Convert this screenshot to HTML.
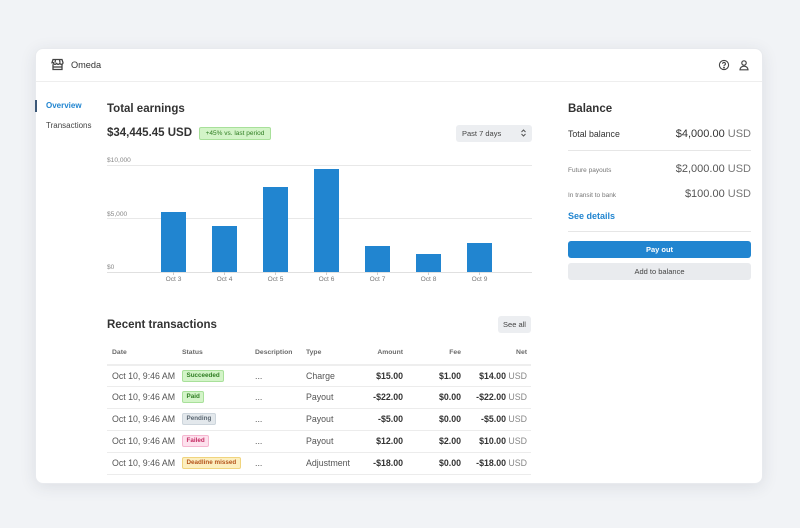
<!DOCTYPE html>
<html><head><meta charset="utf-8"><style>
*{margin:0;padding:0;box-sizing:border-box}
html,body{width:800px;height:528px;overflow:hidden;background:#f1f3f6;font-family:"Liberation Sans",Arial,sans-serif;color:#333}
.a{position:absolute;white-space:nowrap}
.card{position:absolute;left:35px;top:48px;width:728px;height:436px;background:#fff;border-radius:8px;box-shadow:0 3px 16px rgba(40,50,70,0.10);border:1px solid #e8eaee}
.hl{position:absolute;height:1px;background:#ececec}
.bar{position:absolute;width:25.5px;background:#2185d0}
.xl{position:absolute;top:276px;width:40px;text-align:center;font-size:6.6px;color:#777}
.tk{position:absolute;top:272px;width:1px;height:3px;background:#ccc}
.yl{position:absolute;left:107px;font-size:6.6px;color:#888}
.th{position:absolute;top:348px;font-size:6.8px;font-weight:bold;color:#6a6a6a;line-height:10px}
.td{position:absolute;font-size:8.8px;color:#555;line-height:12px}
.r{text-align:right}
.b{font-weight:bold;color:#333}
.u{color:#888;font-weight:normal}
.badge{position:absolute;left:182px;height:12px;line-height:10px;font-size:6.3px;font-weight:bold;padding:0 3.5px;border-radius:2px;border:1px solid}
</style></head><body>
<div class="card"></div>
<!-- header -->
<svg class="a" style="left:51px;top:58px" width="13" height="13" viewBox="0 0 13 13" fill="none" stroke="#444" stroke-width="1.3"><path d="M2 1.5h9l1 3.2c0 1-0.8 1.6-1.6 1.6s-1.6-0.6-1.6-1.6c0 1-0.8 1.6-1.6 1.6S5.6 5.7 5.6 4.7c0 1-0.8 1.6-1.6 1.6S2.4 5.7 2.4 4.7L1 4.7z"/><path d="M2 6.3v5.2h9V6.3"/><path d="M4.5 1.5 4 4.7M8.5 1.5 9 4.7"/><path d="M2 9h9"/></svg>
<div class="a" style="left:71px;top:59px;font-size:9.2px;line-height:12px;color:#333">Omeda</div>
<svg class="a" style="left:718px;top:59px" width="12" height="12" viewBox="0 0 12 12" fill="none" stroke="#444" stroke-width="1.1"><circle cx="6" cy="6" r="4.6"/><path d="M4.6 4.8a1.4 1.4 0 1 1 1.9 1.3c-.4.2-.5.4-.5.8"/><circle cx="6" cy="8.6" r=".4" fill="#444"/></svg>
<svg class="a" style="left:738px;top:59px" width="12" height="12" viewBox="0 0 12 12" fill="none" stroke="#444" stroke-width="1.2"><circle cx="6" cy="4" r="2.2"/><path d="M2 10.8c0-2.2 1.8-3.6 4-3.6s4 1.4 4 3.6z"/></svg>
<div class="hl" style="left:36px;top:81px;width:726px;background:#eeeeee"></div>
<!-- nav -->
<div class="a" style="left:35px;top:100px;width:2px;height:12px;background:#3c5878"></div>
<div class="a" style="left:46px;top:101px;font-size:8px;line-height:10px;color:#2185d0;font-weight:bold">Overview</div>
<div class="a" style="left:46px;top:121px;font-size:8px;line-height:10px;color:#444">Transactions</div>
<!-- earnings -->
<div class="a" style="left:107px;top:102px;font-size:11.5px;line-height:14px;font-weight:bold;color:#333">Total earnings</div>
<div class="a" style="left:107px;top:126px;font-size:11.5px;line-height:14px;font-weight:bold;color:#333">$34,445.45 USD</div>
<div class="a" style="left:199px;top:127px;width:72px;height:13px;background:#d3f4c8;border:1px solid #a8e09a;border-radius:2px;font-size:6.5px;line-height:11px;text-align:center;color:#2f7d22">+45% vs. last period</div>
<div class="a" style="left:456px;top:125px;width:76px;height:17px;background:#eceef1;border-radius:3px"></div>
<div class="a" style="left:462px;top:129px;font-size:7.5px;line-height:10px;color:#444">Past 7 days</div>
<svg class="a" style="left:520px;top:128px" width="7" height="10" viewBox="0 0 7 10" fill="none" stroke="#555" stroke-width="1"><path d="M1.5 4 3.5 2 5.5 4M1.5 6 3.5 8 5.5 6"/></svg>
<!-- chart -->
<div class="yl" style="top:156.5px">$10,000</div>
<div class="yl" style="top:210.5px">$5,000</div>
<div class="yl" style="top:263.5px">$0</div>
<div class="hl" style="left:107px;top:165px;width:425px;background:#e8e8e8"></div>
<div class="hl" style="left:107px;top:218px;width:425px;background:#e8e8e8"></div>
<div class="hl" style="left:107px;top:272px;width:425px;background:#e0e0e0"></div>
<div class="bar" style="left:160.7px;top:212px;height:60px"></div>
<div class="bar" style="left:211.7px;top:226px;height:46px"></div>
<div class="bar" style="left:262.7px;top:187px;height:85px"></div>
<div class="bar" style="left:313.7px;top:169px;height:103px"></div>
<div class="bar" style="left:364.7px;top:246px;height:26px"></div>
<div class="bar" style="left:415.7px;top:254px;height:18px"></div>
<div class="bar" style="left:466.7px;top:243px;height:29px"></div>
<div class="tk" style="left:173px"></div><div class="tk" style="left:224px"></div><div class="tk" style="left:275px"></div><div class="tk" style="left:326px"></div><div class="tk" style="left:377px"></div><div class="tk" style="left:428px"></div><div class="tk" style="left:479px"></div>
<div class="xl" style="left:153.5px">Oct 3</div>
<div class="xl" style="left:204.5px">Oct 4</div>
<div class="xl" style="left:255.5px">Oct 5</div>
<div class="xl" style="left:306.5px">Oct 6</div>
<div class="xl" style="left:357.5px">Oct 7</div>
<div class="xl" style="left:408.5px">Oct 8</div>
<div class="xl" style="left:459.5px">Oct 9</div>
<!-- balance -->
<div class="a" style="left:568px;top:102px;font-size:11.5px;line-height:14px;font-weight:bold;color:#333">Balance</div>
<div class="a" style="left:568px;top:128px;font-size:8.8px;line-height:12px;color:#333">Total balance</div>
<div class="a r" style="right:49px;top:127px;font-size:11px;line-height:14px;color:#333">$4,000.00 <span style="color:#777">USD</span></div>
<div class="hl" style="left:568px;top:150px;width:183px;background:#e6e6e6"></div>
<div class="a" style="left:568px;top:166px;font-size:6.5px;line-height:9px;color:#777">Future payouts</div>
<div class="a r" style="right:49px;top:162px;font-size:11px;line-height:14px;color:#555">$2,000.00 <span style="color:#777">USD</span></div>
<div class="a" style="left:568px;top:191px;font-size:6.5px;line-height:9px;color:#777">In transit to bank</div>
<div class="a r" style="right:49px;top:187px;font-size:11px;line-height:14px;color:#555">$100.00 <span style="color:#777">USD</span></div>
<div class="a" style="left:568px;top:210px;font-size:9px;line-height:12px;font-weight:bold;color:#2185d0">See details</div>
<div class="hl" style="left:568px;top:231px;width:183px;background:#e6e6e6"></div>
<div class="a" style="left:568px;top:241px;width:183px;height:17px;background:#2185d0;border-radius:3px;color:#fff;font-size:7.5px;font-weight:bold;line-height:17px;text-align:center">Pay out</div>
<div class="a" style="left:568px;top:263px;width:183px;height:17px;background:#e9ebee;border-radius:3px;color:#444;font-size:7.5px;line-height:17px;text-align:center">Add to balance</div>
<!-- transactions -->
<div class="a" style="left:107px;top:318px;font-size:11.5px;line-height:14px;font-weight:bold;color:#333">Recent transactions</div>
<div class="a" style="left:498px;top:316px;width:33px;height:17px;background:#eceef1;border-radius:3px;font-size:7.5px;line-height:17px;text-align:center;color:#444">See all</div>
<div class="th" style="left:112px">Date</div>
<div class="th" style="left:182px">Status</div>
<div class="th" style="left:255px">Description</div>
<div class="th" style="left:306px">Type</div>
<div class="th r" style="left:343px;width:60px">Amount</div>
<div class="th r" style="left:401px;width:60px">Fee</div>
<div class="th r" style="left:467px;width:60px">Net</div>
<div class="hl" style="left:107px;top:364px;width:424px;height:2px;background:#eeeeee"></div>
<div class="hl" style="left:107px;top:386px;width:424px"></div>
<div class="hl" style="left:107px;top:408px;width:424px"></div>
<div class="hl" style="left:107px;top:430px;width:424px"></div>
<div class="hl" style="left:107px;top:452px;width:424px"></div>
<div class="hl" style="left:107px;top:474px;width:424px"></div>

<!-- row 1 -->
<div class="td" style="left:112px;top:370px">Oct 10, 9:46 AM</div>
<div class="badge" style="top:370px;background:#d3f4c8;border-color:#a8e09a;color:#2f7d22">Succeeded</div>
<div class="td" style="left:255px;top:370px">...</div>
<div class="td" style="left:306px;top:370px">Charge</div>
<div class="td r b" style="left:343px;width:60px;top:370px">$15.00</div>
<div class="td r b" style="left:401px;width:60px;top:370px">$1.00</div>
<div class="td r b" style="left:447px;width:80px;top:370px">$14.00 <span class="u">USD</span></div>
<!-- row 2 -->
<div class="td" style="left:112px;top:391px">Oct 10, 9:46 AM</div>
<div class="badge" style="top:391px;background:#d3f4c8;border-color:#a8e09a;color:#2f7d22">Paid</div>
<div class="td" style="left:255px;top:391px">...</div>
<div class="td" style="left:306px;top:391px">Payout</div>
<div class="td r b" style="left:343px;width:60px;top:391px">-$22.00</div>
<div class="td r b" style="left:401px;width:60px;top:391px">$0.00</div>
<div class="td r b" style="left:447px;width:80px;top:391px">-$22.00 <span class="u">USD</span></div>
<!-- row 3 -->
<div class="td" style="left:112px;top:413px">Oct 10, 9:46 AM</div>
<div class="badge" style="top:413px;background:#e3e8ec;border-color:#cdd5dc;color:#5b6772">Pending</div>
<div class="td" style="left:255px;top:413px">...</div>
<div class="td" style="left:306px;top:413px">Payout</div>
<div class="td r b" style="left:343px;width:60px;top:413px">-$5.00</div>
<div class="td r b" style="left:401px;width:60px;top:413px">$0.00</div>
<div class="td r b" style="left:447px;width:80px;top:413px">-$5.00 <span class="u">USD</span></div>
<!-- row 4 -->
<div class="td" style="left:112px;top:435px">Oct 10, 9:46 AM</div>
<div class="badge" style="top:435px;background:#fde1ed;border-color:#f5b6d0;color:#c42a62">Failed</div>
<div class="td" style="left:255px;top:435px">...</div>
<div class="td" style="left:306px;top:435px">Payout</div>
<div class="td r b" style="left:343px;width:60px;top:435px">$12.00</div>
<div class="td r b" style="left:401px;width:60px;top:435px">$2.00</div>
<div class="td r b" style="left:447px;width:80px;top:435px">$10.00 <span class="u">USD</span></div>
<!-- row 5 -->
<div class="td" style="left:112px;top:457px">Oct 10, 9:46 AM</div>
<div class="badge" style="top:457px;background:#fcefc0;border-color:#f0d47e;color:#b4541c">Deadline missed</div>
<div class="td" style="left:255px;top:457px">...</div>
<div class="td" style="left:306px;top:457px">Adjustment</div>
<div class="td r b" style="left:343px;width:60px;top:457px">-$18.00</div>
<div class="td r b" style="left:401px;width:60px;top:457px">$0.00</div>
<div class="td r b" style="left:447px;width:80px;top:457px">-$18.00 <span class="u">USD</span></div>
</body></html>
